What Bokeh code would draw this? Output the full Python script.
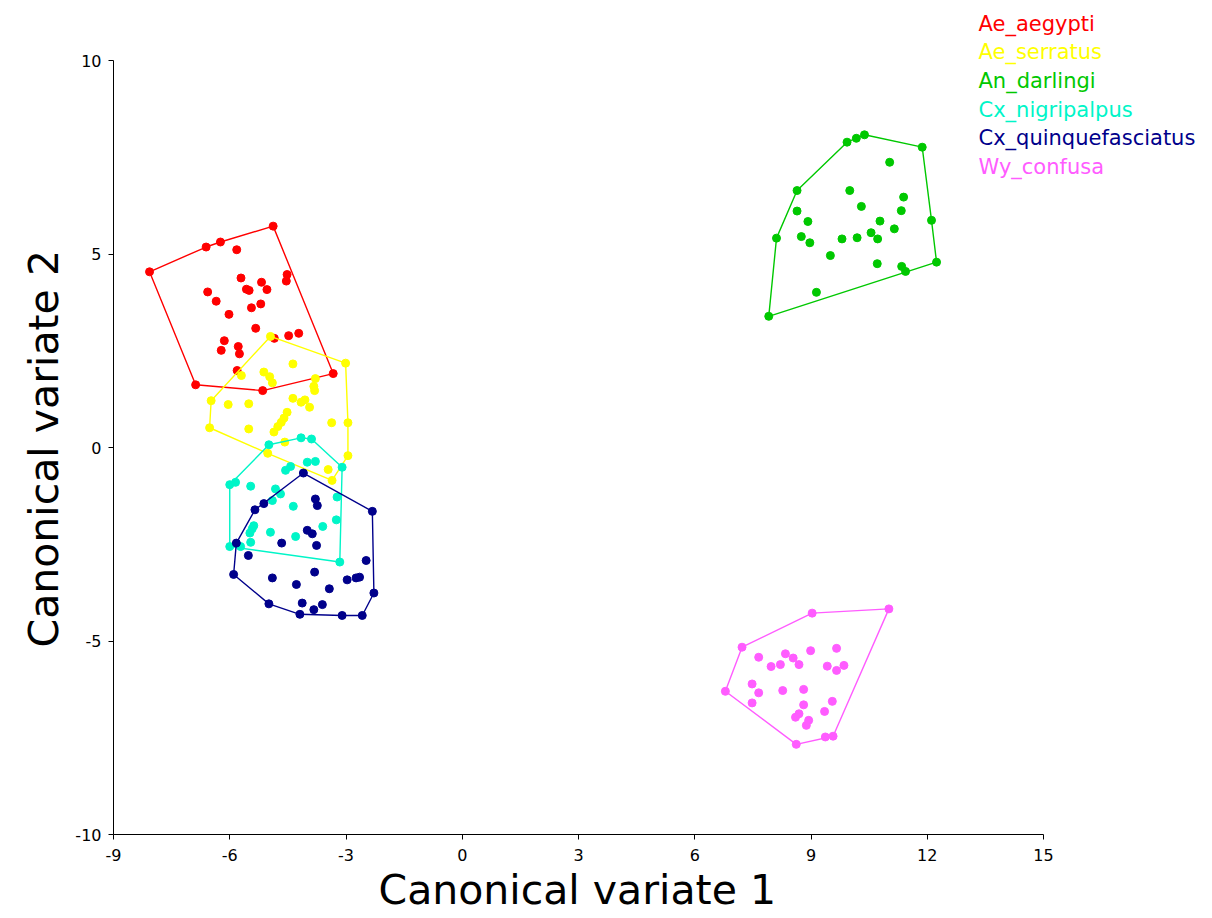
from bokeh.plotting import figure
from bokeh.models import Label, FixedTicker, Title
from bokeh.embed import file_html
from bokeh.resources import INLINE

species = ["Ae_aegypti", "Ae_serratus", "An_darlingi", "Cx_nigripalpus", "Cx_quinquefasciatus", "Wy_confusa"]
colors = ["#FF0000", "#FFFF00", "#00C800", "#00F5C8", "#00008B", "#FF5CFF"]

ae_aegypti_x = [-8.07, -6.61, -6.24, -4.88, -5.82, -4.52, -4.54, -5.71, -5.18, -5.57, -5.50, -5.04, -6.57, -6.35, -5.20,
                -5.44, -6.02, -5.33, -4.48, -4.22, -4.85, -6.14, -6.22, -5.78, -5.75, -5.81, -6.88, -5.15, -3.33]
ae_aegypti_y = [4.54, 5.18, 5.31, 5.72, 5.11, 4.47, 4.30, 4.38, 4.27, 4.09, 4.06, 4.08, 4.02, 3.78, 3.71,
                3.61, 3.44, 3.08, 2.89, 2.95, 2.82, 2.76, 2.51, 2.61, 2.42, 1.99, 1.62, 1.47, 1.91]

ae_serratus_x = [-4.95, -3.01, -4.37, -5.12, -5.70, -4.97, -4.90, -3.79, -3.83, -3.81, -6.48, -6.04, -5.51, -4.37, -4.16,
                 -4.06, -3.94, -4.52, -4.60, -4.67, -4.76, -4.86, -5.51, -6.52, -3.37, -2.95, -4.58, -5.02, -2.95, -3.46, -3.36]
ae_serratus_y = [2.87, 2.18, 2.16, 1.95, 1.86, 1.83, 1.67, 1.78, 1.58, 1.47, 1.21, 1.11, 1.13, 1.27, 1.17,
                 1.23, 1.04, 0.91, 0.76, 0.65, 0.54, 0.40, 0.48, 0.51, 0.64, 0.64, 0.14, -0.15, -0.21, -0.57, -0.85]

an_darlingi_x = [7.91, 8.11, 8.64, 9.93, 10.17, 10.38, 11.87, 12.11, 12.24, 11.44, 11.34, 11.03, 10.00, 11.39, 11.33,
                 10.30, 8.64, 8.92, 10.78, 11.15, 8.75, 8.97, 9.80, 10.19, 10.55, 10.72, 9.50, 10.71, 9.14]
an_darlingi_y = [3.39, 5.41, 6.64, 7.89, 7.99, 8.08, 7.76, 5.87, 4.79, 4.55, 4.68, 7.37, 6.64, 6.47, 6.12,
                 6.23, 6.11, 5.84, 5.85, 5.65, 5.45, 5.29, 5.39, 5.42, 5.55, 5.39, 4.96, 4.75, 4.01]

cx_nigripalpus_x = [-4.99, -4.16, -3.89, -4.00, -3.79, -4.43, -4.56, -3.10, -6.00, -5.85, -5.46, -4.82, -4.69, -3.23,
                    -4.90, -4.36, -3.25, -3.60, -5.38, -5.42, -5.48, -4.95, -4.30, -5.46, -6.00, -5.72, -3.16]
cx_nigripalpus_y = [0.07, 0.25, 0.22, -0.38, -0.36, -0.49, -0.59, -0.51, -0.96, -0.90, -1.00, -1.07, -1.20, -1.28,
                    -1.37, -1.52, -1.87, -2.04, -2.02, -2.10, -2.21, -2.19, -2.30, -2.45, -2.56, -2.56, -2.96]

cx_quinquefasciatus_x = [-4.10, -2.32, -2.28, -2.58, -3.10, -4.19, -4.99, -5.90, -5.83, -5.35, -5.12, -3.79, -3.74, -4.00,
                         -3.87, -4.66, -3.76, -5.52, -2.48, -4.90, -3.81, -4.28, -2.97, -2.74, -2.65, -3.43, -4.13, -3.83, -3.61]
cx_quinquefasciatus_y = [-0.66, -1.65, -3.76, -4.34, -4.34, -4.31, -4.04, -3.28, -2.47, -1.61, -1.45, -1.33, -1.50, -2.14,
                         -2.23, -2.47, -2.53, -2.79, -2.92, -3.37, -3.22, -3.54, -3.42, -3.37, -3.35, -3.65, -4.02, -4.19, -4.06]

wy_confusa_x = [6.79, 7.22, 9.03, 11.01, 9.57, 9.37, 8.62, 7.65, 7.97, 8.21, 8.34, 8.54, 8.69, 8.99, 9.42,
                9.66, 9.66, 9.85, 7.48, 7.65, 7.48, 8.27, 8.81, 8.81, 9.55, 9.35, 8.69, 8.60, 8.94, 8.88]
wy_confusa_y = [-6.30, -5.16, -4.28, -4.17, -7.46, -7.48, -7.67, -5.42, -5.66, -5.61, -5.33, -5.44, -5.61, -5.25, -5.65,
                -5.19, -5.76, -5.63, -6.11, -6.34, -6.60, -6.28, -6.25, -6.65, -6.56, -6.82, -6.88, -6.97, -7.05, -7.18]

xs_all = [ae_aegypti_x, ae_serratus_x, an_darlingi_x, cx_nigripalpus_x, cx_quinquefasciatus_x, wy_confusa_x]
ys_all = [ae_aegypti_y, ae_serratus_y, an_darlingi_y, cx_nigripalpus_y, cx_quinquefasciatus_y, wy_confusa_y]

x_ticks = [-9, -6, -3, 0, 3, 6, 9, 12, 15]
y_ticks = [-10, -5, 0, 5, 10]
x_lim = (-9, 15)
y_lim = (-10, 10)
x_title = "Canonical variate 1"
y_title = "Canonical variate 2"


def convex_hull(xs, ys):
    pts = sorted(set(zip(xs, ys)))
    if len(pts) <= 2:
        return pts

    def cross(o, a, b):
        return (a[0] - o[0]) * (b[1] - o[1]) - (a[1] - o[1]) * (b[0] - o[0])

    lower = []
    for pt in pts:
        while len(lower) >= 2 and cross(lower[-2], lower[-1], pt) <= 0:
            lower.pop()
        lower.append(pt)
    upper = []
    for pt in reversed(pts):
        while len(upper) >= 2 and cross(upper[-2], upper[-1], pt) <= 0:
            upper.pop()
        upper.append(pt)
    return lower[:-1] + upper[:-1]


FONT = "DejaVu Sans"

# Layout: axis box is 930 x 774 px starting at (113, 60); the frame is extended to the right
# and top edges of the canvas so the species labels are not clipped.
W, H = 1212, 918
LEFT, BOTTOM, AX_W, AX_H, AX_TOP = 113, 84, 930, 774, 60
px_x = AX_W / (x_lim[1] - x_lim[0])
px_y = AX_H / (y_lim[1] - y_lim[0])
x_end = x_lim[1] + (W - LEFT - AX_W) / px_x
y_end = y_lim[1] + AX_TOP / px_y

p = figure(width=W, height=H, x_range=(x_lim[0], x_end), y_range=(y_lim[0], y_end),
           output_backend="svg", toolbar_location=None,
           min_border_left=LEFT, min_border_right=0, min_border_top=0, min_border_bottom=BOTTOM)
p.xgrid.visible = False
p.ygrid.visible = False
p.outline_line_color = None
p.background_fill_color = "white"
p.border_fill_color = "white"

for sx, sy, col in zip(xs_all, ys_all, colors):
    hull = convex_hull(sx, sy)
    hx = [h[0] for h in hull] + [hull[0][0]]
    hy = [h[1] for h in hull] + [hull[0][1]]
    p.line(hx, hy, line_color=col, line_width=1.4)
    p.scatter(sx, sy, size=8, fill_color=col, line_color=col)

for ax in (p.xaxis[0], p.yaxis[0]):
    ax.minor_tick_line_color = None
    ax.major_tick_in = 0
    ax.major_tick_out = 5
    ax.axis_line_color = "black"
    ax.major_tick_line_color = "black"
    ax.major_label_text_font = FONT
    ax.major_label_text_font_size = "16px"
    ax.major_label_text_color = "black"

p.xaxis.bounds = x_lim
p.yaxis.bounds = y_lim
p.xaxis.ticker = FixedTicker(ticks=x_ticks)
p.yaxis.ticker = FixedTicker(ticks=y_ticks)
p.xaxis.major_label_overrides = {t: str(t) for t in x_ticks}
p.yaxis.major_label_overrides = {t: str(t) for t in y_ticks}
p.xaxis.major_label_standoff = 9
p.yaxis.major_label_standoff = 7

# axis titles, centred on the axis box rather than on the extended frame
p.add_layout(Title(text=x_title, align="left", offset=265, standoff=0,
                   text_font=FONT, text_font_size="41px", text_font_style="normal",
                   text_color="black"), "below")
p.add_layout(Title(text=y_title, align="left", offset=187, standoff=10,
                   text_font=FONT, text_font_size="41px", text_font_style="normal",
                   text_color="black"), "left")

# species labels at the top right (screen units from frame's bottom-left)
frame_h = H - BOTTOM
for i, (name, col) in enumerate(zip(species, colors)):
    p.add_layout(Label(x=978 - LEFT, y=frame_h - 23 - i * 28.7, x_units="screen", y_units="screen",
                       text=name, text_color=col, text_font=FONT, text_font_size="21px",
                       text_baseline="middle", text_align="left"))

open("out.html", "w").write(file_html(p, INLINE))
